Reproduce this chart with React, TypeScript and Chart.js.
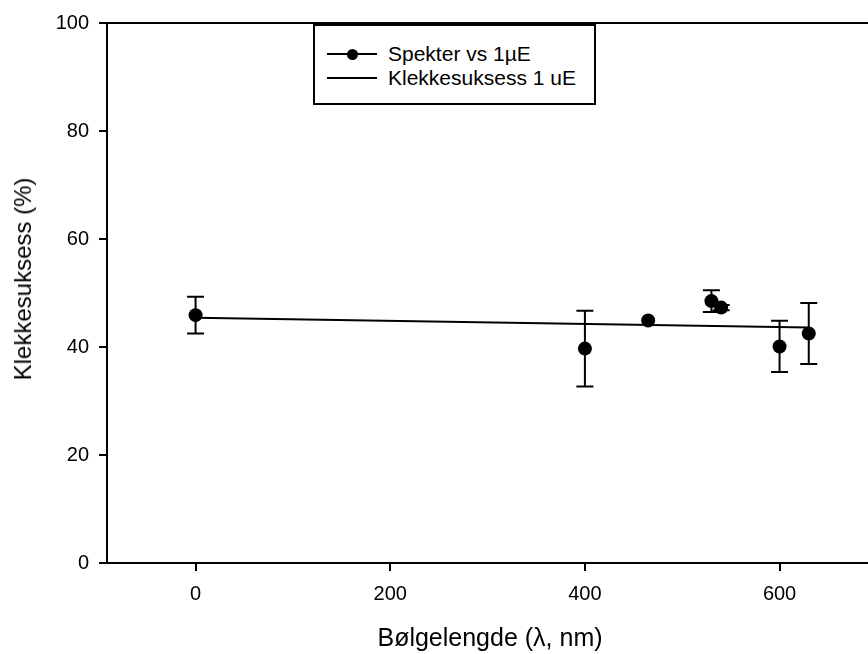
import React, { useEffect, useRef } from "react";
import { Chart, registerables } from "chart.js";

Chart.register(...registerables);

// ---- data ----
const wavelengths = [0, 400, 465, 530, 540, 600, 630];
const hatchSuccess = [45.9, 39.7, 44.9, 48.5, 47.3, 40.1, 42.5];
const hatchError = [3.4, 7.0, 0, 2.0, 0.5, 4.75, 5.65];
const fitX = [0, 630];
const fitY = [45.4, 43.6];
const xTicks = [0, 200, 400, 600];
const yTicks = [0, 20, 40, 60, 80, 100];
const seriesLabel = "Spekter vs 1µE";
const fitLabel = "Klekkesuksess 1 uE";
const xTitle = "Bølgelengde (λ, nm)";
const yTitle = "Klekkesuksess (%)";

const FONT = "'Liberation Sans', Arial, sans-serif";

const errorBarPlugin = {
  id: "errorBars",
  beforeDatasetsDraw(chart: any) {
    const ctx = chart.ctx;
    const xs = chart.scales.x;
    const ys = chart.scales.y;
    ctx.save();
    ctx.strokeStyle = "#000";
    ctx.lineWidth = 2;
    wavelengths.forEach((w, i) => {
      const e = hatchError[i];
      if (!e) return;
      const px = xs.getPixelForValue(w);
      const top = ys.getPixelForValue(hatchSuccess[i] + e);
      const bot = ys.getPixelForValue(hatchSuccess[i] - e);
      ctx.beginPath();
      ctx.moveTo(px, top);
      ctx.lineTo(px, bot);
      ctx.moveTo(px - 8.5, top);
      ctx.lineTo(px + 8.5, top);
      ctx.moveTo(px - 8.5, bot);
      ctx.lineTo(px + 8.5, bot);
      ctx.stroke();
    });
    ctx.restore();
  },
};

const framePlugin = {
  id: "frameTop",
  afterDraw(chart: any) {
    const { ctx, chartArea } = chart;
    ctx.save();
    ctx.strokeStyle = "#000";
    ctx.lineWidth = 2;
    ctx.beginPath();
    ctx.moveTo(chartArea.left - 1, chartArea.top);
    ctx.lineTo(chartArea.right + 20, chartArea.top);
    ctx.stroke();
    ctx.restore();
  },
};

export default function App() {
  const canvasRef = useRef<HTMLCanvasElement | null>(null);

  useEffect(() => {
    if (!canvasRef.current) return;
    const axisGrid = {
      drawOnChartArea: false,
      drawTicks: true,
      tickLength: 8,
      color: "#000",
      lineWidth: 2,
    };
    const chart = new Chart(canvasRef.current, {
      type: "scatter",
      data: {
        datasets: [
          {
            label: seriesLabel,
            data: wavelengths.map((x, i) => ({ x, y: hatchSuccess[i] })),
            showLine: false,
            pointRadius: 7,
            pointBackgroundColor: "#000",
            pointBorderColor: "#000",
            pointBorderWidth: 0,
          },
          {
            label: fitLabel,
            data: fitX.map((x, i) => ({ x, y: fitY[i] })),
            showLine: true,
            pointRadius: 0,
            borderColor: "#000",
            borderWidth: 2,
            fill: false,
          },
        ],
      },
      options: {
        animation: false,
        responsive: false,
        devicePixelRatio: 1,
        layout: { padding: { top: 23, right: 2, bottom: 0, left: 0 } },
        plugins: {
          legend: { display: false },
          tooltip: { enabled: false },
        },
        scales: {
          x: {
            type: "linear",
            min: -91,
            max: 696,
            afterBuildTicks: (s: any) => {
              s.ticks = xTicks.map((v) => ({ value: v }));
            },
            afterFit: (s: any) => {
              s.height = 91;
            },
            grid: axisGrid,
            border: { display: true, color: "#000", width: 2 },
            ticks: {
              color: "#000",
              font: { family: FONT, size: 20 },
              padding: 11,
              maxRotation: 0,
              autoSkip: false,
            },
            title: {
              display: true,
              text: xTitle,
              color: "#000",
              font: { family: FONT, size: 25 },
              padding: { top: 0, bottom: 0 },
            },
          },
          y: {
            type: "linear",
            min: 0,
            max: 100,
            afterBuildTicks: (s: any) => {
              s.ticks = yTicks.map((v) => ({ value: v }));
            },
            afterFit: (s: any) => {
              s.width = 107;
            },
            grid: axisGrid,
            border: { display: true, color: "#000", width: 2 },
            ticks: {
              color: "#000",
              font: { family: FONT, size: 20 },
              padding: 10,
              autoSkip: false,
            },
            title: { display: false },
          },
        },
      } as any,
      plugins: [errorBarPlugin, framePlugin],
    });
    return () => chart.destroy();
  }, []);

  const lineStyle = (top: number): React.CSSProperties => ({
    position: "absolute",
    left: 12,
    top,
    width: 50,
    height: 2,
    background: "#000",
  });
  const textStyle = (top: number): React.CSSProperties => ({
    position: "absolute",
    left: 73,
    top,
    fontFamily: FONT,
    fontSize: 21,
    lineHeight: "24px",
    color: "#000",
    whiteSpace: "nowrap",
  });

  return (
    <div
      style={{
        position: "fixed",
        left: 0,
        top: 0,
        width: 868,
        height: 654,
        overflow: "hidden",
        background: "#fff",
      }}
    >
      <canvas
        ref={canvasRef}
        width={880}
        height={654}
        style={{ position: "absolute", left: 0, top: 0, width: 880, height: 654 }}
      />
      <div
        style={{
          position: "absolute",
          left: 23,
          top: 279,
          width: 0,
          height: 0,
        }}
      >
        <div
          style={{
            position: "absolute",
            left: 0,
            top: 0,
            transform: "translate(-50%, -50%) rotate(-90deg)",
            fontFamily: FONT,
            fontSize: 24,
            lineHeight: "28px",
            color: "#000",
            whiteSpace: "nowrap",
          }}
        >
          {yTitle}
        </div>
      </div>
      <div
        style={{
          position: "absolute",
          left: 313,
          top: 24,
          width: 283,
          height: 81,
          boxSizing: "border-box",
          border: "2px solid #000",
          background: "#fff",
        }}
      >
        <div style={lineStyle(27)} />
        <div
          style={{
            position: "absolute",
            left: 31.5,
            top: 22.5,
            width: 11,
            height: 11,
            borderRadius: "50%",
            background: "#000",
          }}
        />
        <span style={textStyle(16)}>{seriesLabel}</span>
        <div style={lineStyle(51)} />
        <span style={textStyle(40)}>{fitLabel}</span>
      </div>
    </div>
  );
}
